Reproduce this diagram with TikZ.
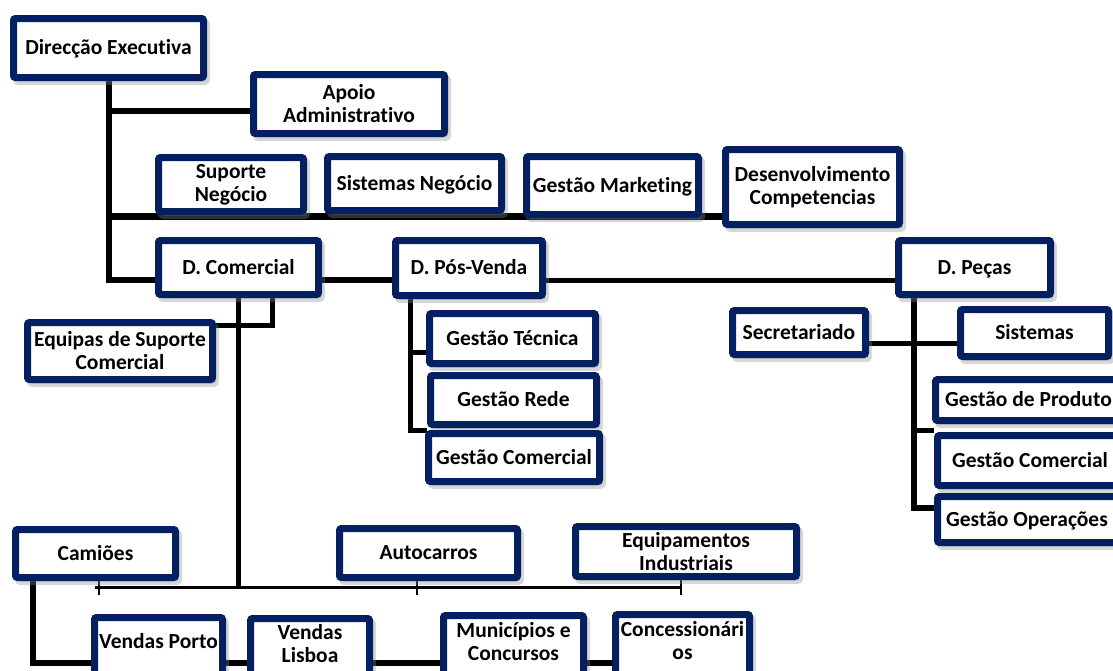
\documentclass[tikz,border=0pt]{standalone}
\usepackage{fontspec}
\setmainfont{Carlito}[Ligatures=NoCommon]
\usetikzlibrary{shadows,backgrounds}
\definecolor{navy}{RGB}{4,32,96}
\begin{document}
\begin{tikzpicture}[x=1pt,y=-1pt,
  box/.style={draw=navy, line width=7pt, fill=white, rounded corners=2pt,
    inner sep=0pt, align=center, text=black,
    font=\fontsize{21.5}{23}\selectfont\bfseries,
    drop shadow={shadow xshift=3pt, shadow yshift=-4pt, fill=black!45,
      draw=black!45, line width=7pt, opacity=0.35}},
  one/.style={text height=13.8pt, text depth=0pt},
  sz/.style 2 args={minimum width=#1pt, minimum height=#2pt},
  w2/.style={draw=black, line width=1.6pt},
  w3/.style={draw=black, line width=3pt},
  w5/.style={draw=black, line width=5pt},
  w6/.style={draw=black, line width=6pt},
  w7/.style={draw=black, line width=7pt}]

\useasboundingbox (0,0) rectangle (1113,670);
\clip (0,0) rectangle (1113,670);

% levels and columns used by the connectors
\coordinate (L111) at (0,111);
\coordinate (L216) at (0,216);
\coordinate (L280) at (0,280);
\coordinate (L325) at (0,325);
\coordinate (L343) at (0,343);
\coordinate (L352) at (0,352);
\coordinate (L430) at (0,430);
\coordinate (L508) at (0,508);
\coordinate (L587) at (0,587);
\coordinate (L595) at (0,595);
\coordinate (L663) at (0,663);
\coordinate (X33) at (33,0);
\coordinate (X95) at (95,0);
\coordinate (X99) at (99,0);
\coordinate (X272) at (272,0);
\coordinate (X410) at (410,0);
\coordinate (X417) at (417,0);
\coordinate (X681) at (681,0);
\coordinate (X914) at (914,0);

% organisation units
\path
  (108.5,48)   node[box,one,sz={190}{59}] (dex)  {Direcção Executiva}
  (349,104)    node[box,sz={191}{59}]     (apoio) {Apoio\\Administrativo}
  (231,184.5)  node[box,sz={145}{54}]     (sn)   {Suporte\\Negócio}
  (414.5,183.5) node[box,one,sz={174}{54}] (sis) {Sistemas Negócio}
  (612.5,185.5) node[box,one,sz={172}{58}] (gm)  {Gestão Marketing}
  (812.5,187)  node[box,sz={174}{75}]     (dc)   {Desenvolvimento\\Competencias}
  (238.5,267.5) node[box,one,sz={160}{54}] (dcom) {D. Comercial}
  (469,268)    node[box,one,sz={147}{55}] (dpv)  {D. Pós-Venda}
  (974.5,267.5) node[box,one,sz={152}{54}] (dpe) {D. Peças}
  (120,351)    node[box,sz={185}{57}]     (esc)  {Equipas de Suporte\\Comercial}
  (512.5,338.5) node[box,one,sz={166}{50}] (gt)  {Gestão Técnica}
  (513.5,400)  node[box,one,sz={166}{49}] (gr)   {Gestão Rede}
  (514,457.5)  node[box,one,sz={171}{48}] (gcp)  {Gestão Comercial}
  (799,332.5)  node[box,one,sz={133}{44}] (sec)  {Secretariado}
  (1034.5,333) node[box,one,sz={148}{47}] (sist) {Sistemas}
  (1028.5,400) node[box,one,sz={186}{41}] (gp)   {Gestão de Produto}
  (1030,460.5) node[box,one,sz={185}{50}] (gcpe) {Gestão Comercial}
  (1027,519.5) node[box,one,sz={179}{46}] (gop)  {Gestão Operações}
  (95.5,553.5) node[box,one,sz={160}{48}] (cam)  {Camiões}
  (428.5,553)  node[box,one,sz={178}{49}] (auto) {Autocarros}
  (686,551.5)  node[box,sz={221}{50}]     (eqi)  {Equipamentos\\Industriais}
  (158.5,652)  node[box,sz={128}{69},text height=13.8pt,text depth=21.8pt] (vp) {Vendas Porto}
  (310,652.5)  node[box,sz={119}{68},text depth=17.5pt] (vl) {Vendas\\Lisboa}
  (513.5,651)  node[box,sz={140}{71},text depth=18.5pt] (mc) {Municípios e\\Concursos}
  (682.5,650.5) node[box,sz={134}{72},text depth=19.5pt] (cs) {Concessionári\\os};

% connectors, kept behind the boxes
\begin{pgfonlayer}{background}
\draw[w6] (dex.south) |- (dcom.west |- L280);
\draw[w6] (dex.south |- L111) -- (apoio.west |- L111);
\draw[w7] (dex.south |- L216) -- (dc.east |- L216);
\draw[w6] (dcom.east |- L280) -- (dpv.west |- L280);
\draw[w5] (dpv.east |- L280) -- (dpe.west |- L280);
\draw[w5] (dcom.south) -- (dcom.south |- L587);
\draw[w5] (X272 |- dcom.south) |- (esc.east |- L325);
\draw[w5] (X410 |- dpv.south) |- (gr.west |- L430);
\draw[w5] (X410 |- L352) -- (gt.west |- L352);
\draw[w6] (X914 |- dpe.south) |- (gop.west |- L508);
\draw[w5] (X914 |- L430) -- (gcpe.west |- L430);
\draw[w5] (sec.east |- L343) -- (sist.west |- L343);
\draw[w3] (X95 |- L587) -- (X681 |- L587);
\draw[w2] (X99 |- cam.south) -- (X99 |- L595);
\draw[w2] (X417 |- auto.south) -- (X417 |- L595);
\draw[w2] (X681 |- eqi.south) -- (X681 |- L595);
\draw[w6] (X33 |- cam.south) |- (cs.west |- L663);
\end{pgfonlayer}
\end{tikzpicture}
\end{document}
